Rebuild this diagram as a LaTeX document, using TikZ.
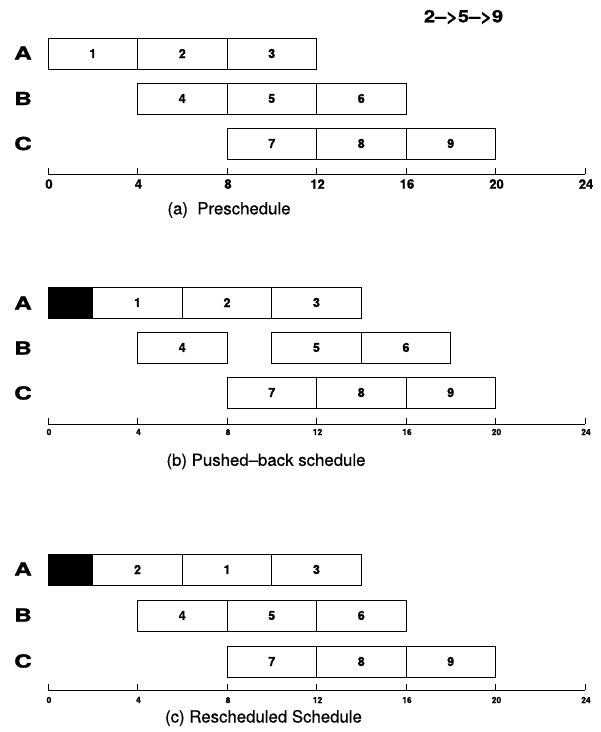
\documentclass[tikz,border=0pt]{standalone}
\usepackage{fontspec}
\setmainfont{TeX Gyre Heros}
\newfontfamily\heavyfont{TeX Gyre Heros}[BoldFeatures={FakeBold=1.2}]
\newfontfamily\capfont{TeX Gyre Heros}[FakeBold=0.6]
\tikzset{
  taskbox/.style={draw, line width=0.8pt, minimum height=31pt, inner sep=0pt, font=\heavyfont\bfseries\fontsize{12.5}{12.5}\selectfont},
  blackbox/.style={taskbox, fill=black},
  rowlab/.style={font=\heavyfont\bfseries\fontsize{18}{18}\selectfont, inner sep=0pt},
  ticklabbig/.style={font=\heavyfont\bfseries\fontsize{13}{13}\selectfont, inner sep=0pt},
  ticklabsmall/.style={font=\heavyfont\bfseries\fontsize{8.5}{8.5}\selectfont, inner sep=0pt},
  captxt/.style={font=\capfont\fontsize{16.8}{16.8}\selectfont, inner sep=0pt},
  axisline/.style={line width=0.8pt},
}
\newcommand{\tbox}[6][taskbox]{\node[#1, minimum width={(#4-#3)*22.375pt}] (#2) at ({(#3+#4)/2},{#5+15.5}) {#6};}
\newcommand{\rowlabel}[3]{\node[rowlab] (#1) at (23,#2) {\scalebox{1.35}[1]{#3}};}
\begin{document}
\begin{tikzpicture}[x=1pt,y=-1pt]
\useasboundingbox (0,0) rectangle (601,732);
% title
\node[font=\heavyfont\bfseries\fontsize{17}{17}\selectfont, inner sep=0pt] (title) at (463.5,17) {\scalebox{1.18}[1]{2–>5–>9}};
% row labels
\rowlabel{aA}{53}{A}\rowlabel{aB}{98.5}{B}\rowlabel{aC}{143.5}{C}
\rowlabel{bA}{303}{A}\rowlabel{bB}{348}{B}\rowlabel{bC}{393}{C}
\rowlabel{cA}{569}{A}\rowlabel{cB}{615}{B}\rowlabel{cC}{661}{C}
% captions
\node[captxt] (capa) at (229,210) {(a)\ \ Preschedule};
\node[captxt] (capb) at (266,461.5) {(b) Pushed–back schedule};
\node[captxt] (capc) at (263.5,718) {(c) Rescheduled Schedule};
\begin{scope}[xshift=48pt, x=22.375pt, y=-1pt]
% ---- panel (a)
\tbox{a1}{0}{4}{38}{1}\tbox{a2}{4}{8}{38}{2}\tbox{a3}{8}{12}{38}{3}
\tbox{a4}{4}{8}{83}{4}\tbox{a5}{8}{12}{83}{5}\tbox{a6}{12}{16}{83}{6}
\tbox{a7}{8}{12}{128}{7}\tbox{a8}{12}{16}{128}{8}\tbox{a9}{16}{20}{128}{9}
\draw[axisline] (0,174) -- (24,174);
\foreach \t in {0,4,...,24}{
  \draw[axisline] (\t,174) -- (\t,168);
  \node[ticklabbig] (ta\t) at ([xshift=1pt]\t,184) {\t};
}
% ---- panel (b)
\tbox[blackbox]{bX}{0}{2}{287}{}
\tbox{b1}{2}{6}{287}{1}\tbox{b2}{6}{10}{287}{2}\tbox{b3}{10}{14}{287}{3}
\tbox{b4}{4}{8}{332}{4}\tbox{b5}{10}{14}{332}{5}\tbox{b6}{14}{18}{332}{6}
\tbox{b7}{8}{12}{377}{7}\tbox{b8}{12}{16}{377}{8}\tbox{b9}{16}{20}{377}{9}
\draw[axisline] (0,424) -- (24,424);
\foreach \t in {0,4,...,24}{
  \draw[axisline] (\t,424) -- (\t,418);
  \node[ticklabsmall] (tb\t) at ([xshift=1pt]\t,432) {\t};
}
% ---- panel (c)
\tbox[blackbox]{cX}{0}{2}{554}{}
\tbox{c1}{2}{6}{554}{2}\tbox{c2}{6}{10}{554}{1}\tbox{c3}{10}{14}{554}{3}
\tbox{c4}{4}{8}{600}{4}\tbox{c5}{8}{12}{600}{5}\tbox{c6}{12}{16}{600}{6}
\tbox{c7}{8}{12}{646}{7}\tbox{c8}{12}{16}{646}{8}\tbox{c9}{16}{20}{646}{9}
\draw[axisline] (0,690) -- (24,690);
\foreach \t in {0,4,...,24}{
  \draw[axisline] (\t,690) -- (\t,684);
  \node[ticklabsmall] (tc\t) at ([xshift=1pt]\t,700) {\t};
}
\end{scope}
\end{tikzpicture}
\end{document}
